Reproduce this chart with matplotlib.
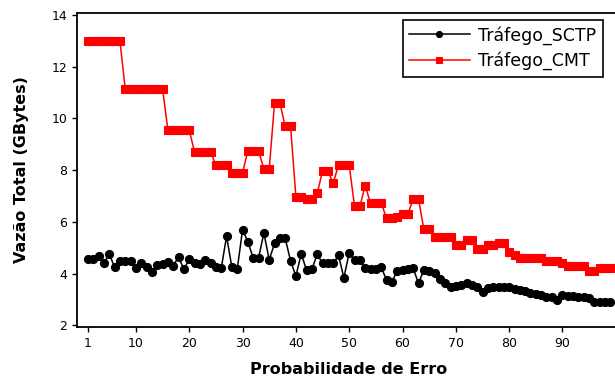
import matplotlib
matplotlib.use("Agg")
import matplotlib.pyplot as plt

# probabilidade de erro (x) 1..99
prob = list(range(1, 100))

# Tráfego_SCTP values
sctp = [4.57, 4.57, 4.67, 4.40, 4.77, 4.24, 4.47, 4.50, 4.47, 4.20,
        4.40, 4.24, 4.07, 4.33, 4.37, 4.43, 4.30, 4.64, 4.16, 4.56,
        4.40, 4.37, 4.53, 4.40, 4.27, 4.20, 5.44, 4.24, 4.16, 5.70,
        5.23, 4.60, 4.60, 5.57, 4.53, 5.17, 5.36, 5.36, 4.50, 3.90,
        4.77, 4.13, 4.16, 4.75, 4.39, 4.39, 4.39, 4.70, 3.84, 4.80,
        4.52, 4.52, 4.20, 4.17, 4.17, 4.25, 3.75, 3.68, 4.10, 4.14,
        4.17, 4.20, 3.62, 4.14, 4.10, 4.02, 3.78, 3.62, 3.47, 3.52,
        3.56, 3.65, 3.56, 3.47, 3.30, 3.43, 3.49, 3.49, 3.49, 3.47,
        3.39, 3.36, 3.33, 3.24, 3.21, 3.17, 3.11, 3.08, 2.97, 3.17,
        3.14, 3.14, 3.11, 3.11, 3.04, 2.91, 2.91, 2.91, 2.91]

# Tráfego_CMT values
cmt = [13.0, 13.0, 13.0, 13.0, 13.0, 13.0, 13.0,
       11.15, 11.15, 11.15, 11.15, 11.15, 11.15, 11.15, 11.15,
       9.55, 9.55, 9.55, 9.55, 9.55,
       8.7, 8.7, 8.7, 8.7,
       8.2, 8.2, 8.2,
       7.9, 7.9, 7.9,
       8.75, 8.75, 8.75,
       8.05, 8.05,
       10.6, 10.6,
       9.7, 9.7,
       6.98, 6.98, 6.9, 6.9, 7.1,
       7.97, 7.97, 7.5,
       8.2, 8.2, 8.2,
       6.6, 6.6, 7.4,
       6.73, 6.73, 6.73,
       6.15, 6.15, 6.2, 6.3, 6.3,
       6.88, 6.88,
       5.72, 5.72,
       5.4, 5.4, 5.4, 5.4,
       5.1, 5.1, 5.28, 5.28,
       4.95, 4.95, 5.12, 5.12, 5.2, 5.2,
       4.85, 4.7,
       4.6, 4.6, 4.6, 4.6, 4.6,
       4.48, 4.48, 4.48, 4.4,
       4.3, 4.3, 4.3, 4.3,
       4.1, 4.1, 4.2, 4.2, 4.2]

xticks = [1, 10, 20, 30, 40, 50, 60, 70, 80, 90]
yticks = [2, 4, 6, 8, 10, 12, 14]

fig = plt.figure(figsize=(6.15, 3.83), dpi=100)
ax = fig.add_axes([0.125, 0.146, 0.885, 0.82])

ax.plot(prob, sctp, color="black", marker="o", markersize=5.8, markeredgewidth=0.8,
        linewidth=1.1, label="Tráfego_SCTP")
ax.plot(prob, cmt, color="red", marker="s", markersize=5.8, markeredgewidth=0.8,
        linewidth=1.1, label="Tráfego_CMT")

ax.set_xlim(-1.07, 101)
ax.set_ylim(1.93, 14.08)
ax.set_xticks(xticks)
ax.set_yticks(yticks)
ax.tick_params(direction="out", length=3.5, width=1, labelsize=9)
for s in ax.spines.values():
    s.set_linewidth(1.3)
ax.spines["right"].set_visible(False)

ax.set_xlabel("Probabilidade de Erro", fontsize=11.5, fontweight="bold", labelpad=9)
ax.set_ylabel("Vazão Total (GBytes)", fontsize=11.5, fontweight="bold", labelpad=16)

leg = ax.legend(loc="upper left", bbox_to_anchor=(0.655, 0.948),
                bbox_transform=fig.transFigure, borderaxespad=0,
                fontsize=12.5, fancybox=False,
                edgecolor="black", framealpha=1, handlelength=3.5,
                handletextpad=0.5, borderpad=0.35, labelspacing=0.4,
                markerscale=0.75)
leg.get_frame().set_linewidth(1.2)

fig.savefig("out.png", dpi=100)
